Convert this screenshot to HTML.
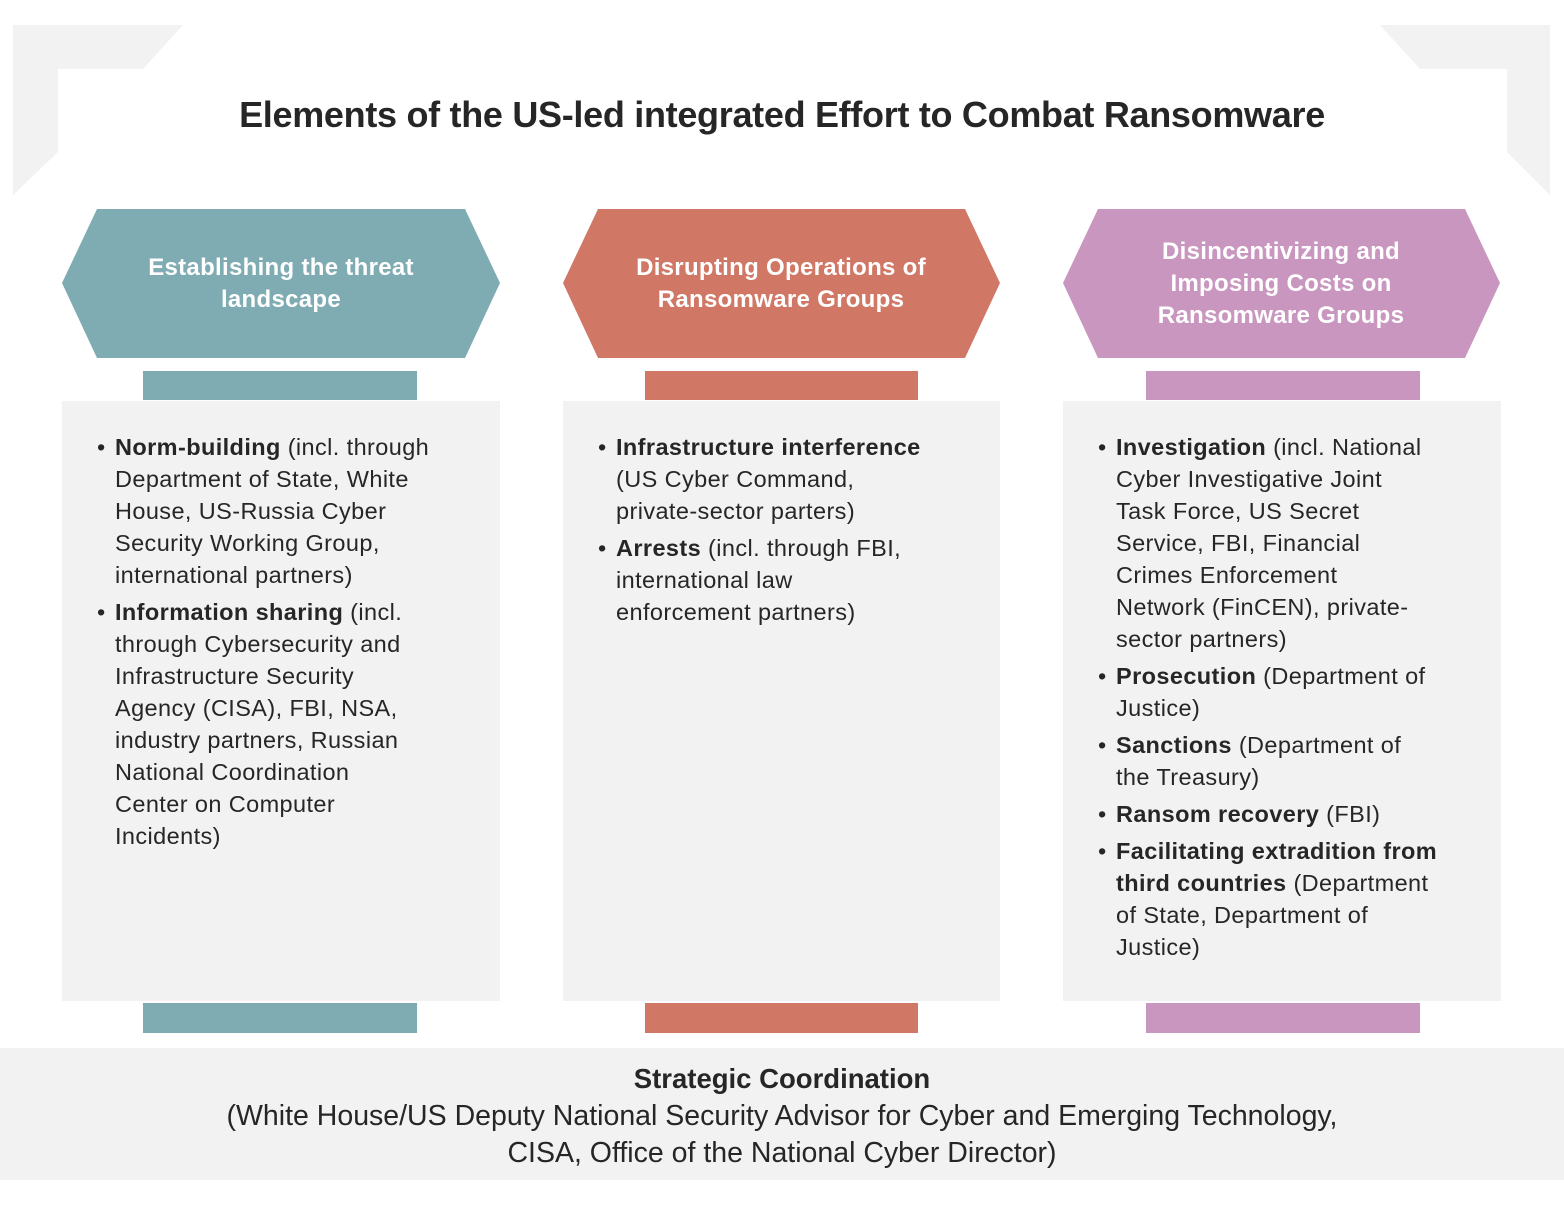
<!DOCTYPE html>
<html><head><meta charset="utf-8"><style>
body{margin:0;width:1564px;height:1213px;background:#fff;position:relative;font-family:"Liberation Sans",sans-serif;overflow:hidden}
.a{position:absolute}
.title{left:0;width:1564px;top:94px;text-align:center;font-size:36px;font-weight:bold;color:#262626;letter-spacing:-0.3px}
.hex{display:flex;align-items:center;justify-content:center;text-align:center;color:#fff;font-weight:bold;font-size:24px;line-height:32px;letter-spacing:0.3px}
.body{background:#f2f2f2}
ul{margin:0;padding:0;list-style:none}
li{position:relative;padding-left:18px;font-size:23.5px;line-height:32px;color:#262626;margin-bottom:5px;white-space:nowrap;letter-spacing:0.4px}
li:before{content:"•";position:absolute;left:0;top:0}
.foot{left:0;top:1048px;width:1564px;height:132px;background:#f2f2f2;text-align:center;font-size:28.5px;line-height:37px;color:#262626;padding-top:12px;box-sizing:border-box}
.foot b{font-size:27.5px}
</style></head><body>
<svg class="a" style="left:0;top:0" width="1564" height="400">
<polygon points="13,25 183,25 143,69 58,69 58,152 13,195" fill="#f2f2f2"/>
<polygon points="1380,25 1550,25 1550,195 1507,152 1507,69 1420,69" fill="#f2f2f2"/>
<polygon points="62,283 97,209 465,209 500,283 465,358 97,358" fill="#7fabb3"/>
<polygon points="563,283 598,209 965,209 1000,283 965,358 598,358" fill="#d07766"/>
<polygon points="1063,283 1098,209 1465,209 1500,283 1465,358 1098,358" fill="#c996bf"/>
</svg>
<div class="a title">Elements of the US-led integrated Effort to Combat Ransomware</div>
<div class="a hex" style="left:100px;top:209px;width:362px;height:149px">Establishing the threat<br>landscape</div>
<div class="a hex" style="left:600px;top:209px;width:362px;height:149px">Disrupting Operations of<br>Ransomware Groups</div>
<div class="a hex" style="left:1100px;top:209px;width:362px;height:149px">Disincentivizing and<br>Imposing Costs on<br>Ransomware Groups</div>

<div class="a" style="left:143px;top:371px;width:274px;height:29px;background:#7fabb3"></div>
<div class="a" style="left:645px;top:371px;width:273px;height:29px;background:#d07766"></div>
<div class="a" style="left:1146px;top:371px;width:274px;height:29px;background:#c996bf"></div>
<div class="a" style="left:143px;top:1003px;width:274px;height:30px;background:#7fabb3"></div>
<div class="a" style="left:645px;top:1003px;width:273px;height:30px;background:#d07766"></div>
<div class="a" style="left:1146px;top:1003px;width:274px;height:30px;background:#c996bf"></div>

<div class="a body" style="left:62px;top:401px;width:438px;height:600px">
<ul style="margin:30px 0 0 35px">
<li><b>Norm-building</b> (incl. through<br>Department of State, White<br>House, US-Russia Cyber<br>Security Working Group,<br>international partners)</li>
<li><b>Information sharing</b> (incl.<br>through Cybersecurity and<br>Infrastructure Security<br>Agency (CISA), FBI, NSA,<br>industry partners, Russian<br>National Coordination<br>Center on Computer<br>Incidents)</li>
</ul></div>
<div class="a body" style="left:563px;top:401px;width:437px;height:600px">
<ul style="margin:30px 0 0 35px">
<li><b>Infrastructure interference</b><br>(US Cyber Command,<br>private-sector parters)</li>
<li><b>Arrests</b> (incl. through FBI,<br>international law<br>enforcement partners)</li>
</ul></div>
<div class="a body" style="left:1063px;top:401px;width:438px;height:600px">
<ul style="margin:30px 0 0 35px">
<li><b>Investigation</b> (incl. National<br>Cyber Investigative Joint<br>Task Force, US Secret<br>Service, FBI, Financial<br>Crimes Enforcement<br>Network (FinCEN), private-<br>sector partners)</li>
<li><b>Prosecution</b> (Department of<br>Justice)</li>
<li><b>Sanctions</b> (Department of<br>the Treasury)</li>
<li><b>Ransom recovery</b> (FBI)</li>
<li><b>Facilitating extradition from<br>third countries</b> (Department<br>of State, Department of<br>Justice)</li>
</ul></div>

<div class="a foot"><b>Strategic Coordination</b><br>(White House/US Deputy National Security Advisor for Cyber and Emerging Technology,<br>CISA, Office of the National Cyber Director)</div>
</body></html>
